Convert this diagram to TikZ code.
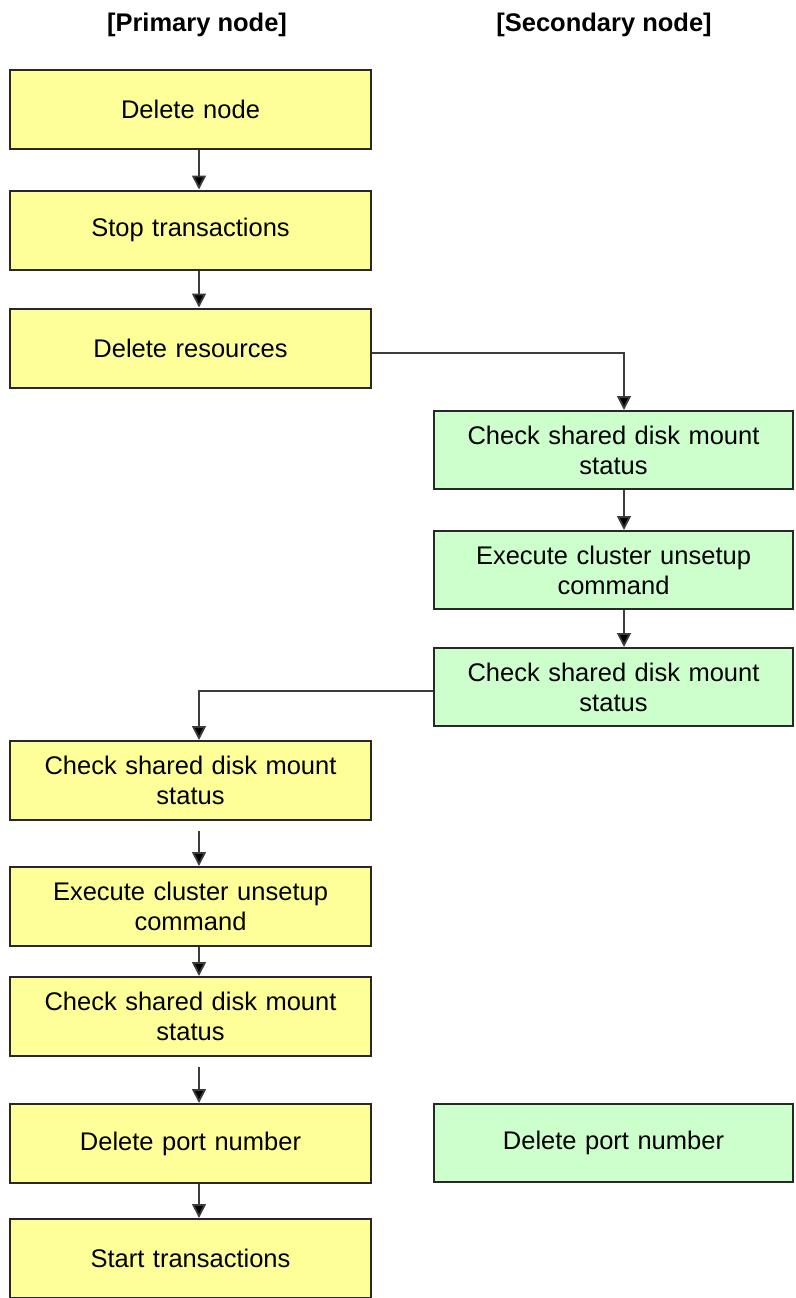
\documentclass[tikz,border=0pt]{standalone}
\usepackage{fontspec}
\setmainfont{Liberation Sans}
\usetikzlibrary{arrows.meta,calc}
\definecolor{boxY}{RGB}{255,255,153}
\definecolor{boxG}{RGB}{204,255,204}
\definecolor{edgeC}{RGB}{40,40,40}
\definecolor{lineC}{RGB}{60,60,60}
\tikzset{
  every node/.style={font=\fontsize{25.5}{30}\selectfont},
  boxbase/.style={draw=edgeC, line width=2pt, rectangle, align=center, inner sep=0pt},
  lbox/.style={boxbase, fill=boxY, minimum width=361pt, minimum height=79pt, text width=340pt},
  rbox/.style={boxbase, fill=boxG, minimum width=359pt, minimum height=78pt, text width=340pt},
  hdr/.style={font=\fontsize{25.5}{30}\selectfont\bfseries},
  arr/.style={draw=lineC, line width=1.8pt, -{Triangle[width=14pt,length=14pt,fill=black]}},
}
\begin{document}
\begin{tikzpicture}[x=1pt,y=-1pt]
\useasboundingbox (0,0) rectangle (795,1298);
\coordinate (axL) at (199,0);
\coordinate (axR) at (624,0);

\node[hdr] (h1) at (197,25) {[Primary node]};
\node[hdr] (h2) at (604,25) {[Secondary node]};

\node[lbox] (l1) at (190.5,109.5) {Delete node};
\node[lbox] (l2) at (190.5,230) {Stop transactions};
\node[lbox] (l3) at (190.5,348) {Delete resources};
\node[lbox] (l4) at (190.5,780.5) {Check shared disk mount\\status};
\node[lbox] (l5) at (190.5,906.5) {Execute cluster unsetup\\command};
\node[lbox] (l6) at (190.5,1016.5) {Check shared disk mount\\status};
\node[lbox] (l7) at (190.5,1143.5) {Delete port number};
\node[lbox] (l8) at (190.5,1258.5) {Start transactions};

\node[rbox] (r1) at (613.5,450) {Check shared disk mount\\status};
\node[rbox] (r2) at (613.5,570) {Execute cluster unsetup\\command};
\node[rbox] (r3) at (613.5,687) {Check shared disk mount\\status};
\node[rbox] (r4) at (613.5,1142.5) {Delete port number};

\draw[arr] (l1.south -| axL) -- (l2.north -| axL);
\draw[arr] (l2.south -| axL) -- (l3.north -| axL);
\draw[arr] ($(l3.east)+(0,5)$) -| (r1.north -| axR);
\draw[arr] (r1.south -| axR) -- (r2.north -| axR);
\draw[arr] (r2.south -| axR) -- (r3.north -| axR);
\draw[arr] ($(r3.west)+(0,4)$) -| (l4.north -| axL);
\draw[arr, shorten <=10pt] (l4.south -| axL) -- (l5.north -| axL);
\draw[arr] (l5.south -| axL) -- (l6.north -| axL);
\draw[arr, shorten <=10pt] (l6.south -| axL) -- (l7.north -| axL);
\draw[arr] (l7.south -| axL) -- (l8.north -| axL);
\end{tikzpicture}
\end{document}
